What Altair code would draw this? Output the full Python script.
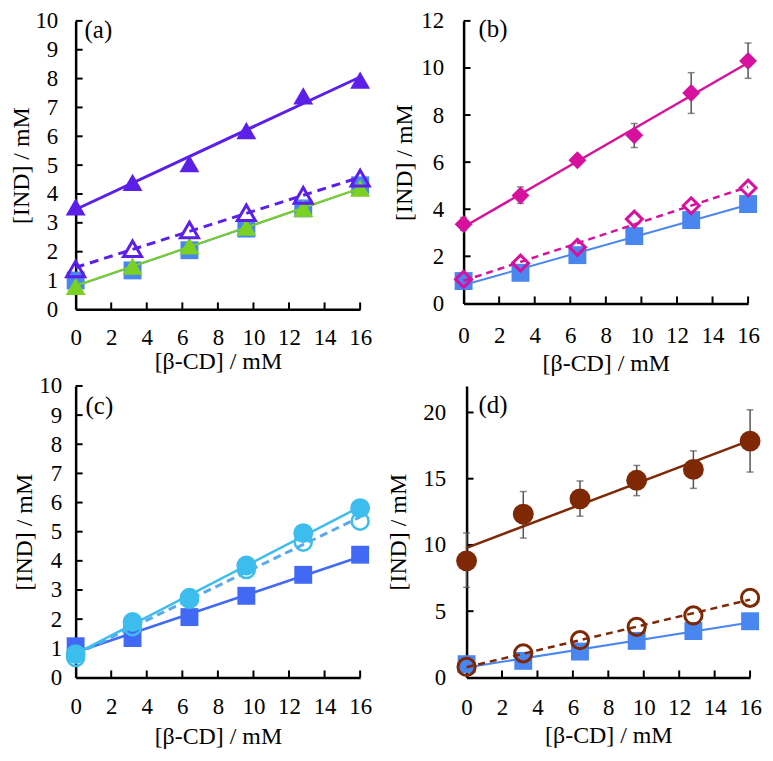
import altair as alt
import pandas as pd

FONT = "Liberation Serif"

# ---------------- data ----------------
X = [0, 3.2, 6.4, 9.6, 12.8, 16]

# panel (a)
a_ctrl = [1.0, 1.35, 2.05, 2.8, 3.5, 4.3]
a_green = [0.8, 1.5, 2.2, 2.85, 3.5, 4.2]
a_purple = [3.55, 4.4, 5.05, 6.2, 7.4, 7.95]
a_purple_open = [1.4, 2.1, 2.75, 3.35, 3.95, 4.55]

# panel (b)
b_ctrl = [0.95, 1.3, 2.05, 2.86, 3.54, 4.22]
b_mag = [3.36, 4.58, 6.08, 7.14, 8.94, 10.3]
b_mag_lo = [3.1, 4.25, 5.9, 6.62, 8.07, 9.56]
b_mag_hi = [3.65, 4.95, 6.3, 7.64, 9.8, 11.06]
b_mag_open = [1.02, 1.71, 2.38, 3.58, 4.15, 4.9]

# panel (c)
c_ctrl = [1.07, 1.35, 2.07, 2.8, 3.52, 4.21]
c_lb = [0.8, 1.9, 2.69, 3.84, 4.95, 5.81]
c_lb_open = [0.68, 1.74, 2.74, 3.7, 4.64, 5.36]

# panel (d)
d_ctrl = [1.0, 1.25, 1.95, 2.76, 3.5, 4.24]
d_brown = [8.8, 12.32, 13.48, 14.88, 15.7, 17.84]
d_brown_lo = [6.8, 10.52, 12.17, 13.72, 14.27, 15.5]
d_brown_hi = [10.9, 14.03, 14.83, 16.0, 17.1, 20.2]
d_brown_open = [0.79, 1.82, 2.81, 3.82, 4.68, 6.01]

X_TICKS = [0, 2, 4, 6, 8, 10, 12, 14, 16]
A_YTICKS = list(range(0, 11))
B_YTICKS = [0, 2, 4, 6, 8, 10, 12]
C_YTICKS = list(range(0, 11))
D_YTICKS = [0, 5, 10, 15, 20]

X_TITLE = "[β-CD] / mM"
Y_TITLE = "[IND] / mM"
LABELS = ["(a)", "(b)", "(c)", "(d)"]

# ---------------- colours ----------------
BLUE = "#4A86F0"
BLUE_C = "#4169F5"
PURPLE = "#5B1FE8"
GREEN = "#7AD124"
MAGENTA = "#D5119E"
LIGHTBLUE = "#3DBDEE"
LIGHTBLUE_DASH = "#5AA8F0"
BROWN = "#7E2806"
ERR = "#555555"

LFS = 23   # tick label font size
TFS = 24   # axis title font size


def panel(label, ymax, yticks, series, errs, w, h, ax):
    xs = alt.Scale(domain=[0, 16], nice=False, zero=False)
    ys = alt.Scale(domain=[0, ymax], nice=False, zero=False)
    common = dict(grid=False, ticks=False, domainColor="black", domainWidth=2.5,
                  labelFont=FONT, labelFontSize=LFS, labelColor="black",
                  titleFont=FONT, titleFontSize=TFS, titleFontWeight="normal",
                  titleColor="black", labelFlush=False)
    xaxis = alt.Axis(values=X_TICKS, title=X_TITLE, labelPadding=ax["xlp"],
                     titleY=ax["xty"], titleBaseline="top", **common)
    yaxis = alt.Axis(values=yticks, title=Y_TITLE, labelPadding=ax["ylp"],
                     titlePadding=ax["ytp"], **common)

    def enc_x(f="x"):
        return alt.X(f"{f}:Q", scale=xs, axis=xaxis)

    def enc_y(f="y"):
        return alt.Y(f"{f}:Q", scale=ys, axis=yaxis)

    layers = []
    # inward ticks
    xt = pd.DataFrame({"x": [t for t in X_TICKS if t > 0]})
    layers.append(alt.Chart(xt).mark_rule(color="black", strokeWidth=2).encode(
        x=enc_x(), y=alt.value(h), y2=alt.value(h - 7)))
    yt = pd.DataFrame({"y": [t for t in yticks if t > 0]})
    layers.append(alt.Chart(yt).mark_rule(color="black", strokeWidth=2).encode(
        y=enc_y(), x=alt.value(0), x2=alt.value(7)))

    # error bars
    for vals, lo, hi in errs:
        edf = pd.DataFrame({"x": X, "lo": lo, "hi": hi})
        layers.append(alt.Chart(edf).mark_rule(color=ERR, strokeWidth=1.5).encode(
            x=enc_x(), y=enc_y("lo"), y2="hi:Q"))
        for f in ("lo", "hi"):
            layers.append(alt.Chart(edf).mark_tick(color=ERR, orient="horizontal",
                                                   size=7, thickness=1.5).encode(
                x=enc_x(), y=enc_y(f)))

    for s in series:
        df = pd.DataFrame({"x": X, "y": s["y"]})
        line_kw = dict(color=s["lcolor"], strokeWidth=s["lw"])
        if s.get("dash"):
            line_kw["strokeDash"] = s["dash"]
        line = alt.Chart(df).transform_regression(
            "x", "y", extent=[0, 16]).mark_line(**line_kw).encode(x=enc_x(), y=enc_y())
        pt_kw = dict(shape=s["shape"], size=s["size"], color=s["color"], opacity=1)
        if s["filled"]:
            pt_kw.update(filled=True, strokeWidth=0)
        else:
            pt_kw.update(filled=False, strokeWidth=s.get("sw", 3))
        pts = alt.Chart(df).mark_point(**pt_kw).encode(x=enc_x(), y=enc_y())
        layers += [line, pts]

    lab = alt.Chart(pd.DataFrame({"t": [label]})).mark_text(
        font=FONT, fontSize=25, align="left", baseline="middle", color="black").encode(
        text="t:N", x=alt.value(ax["lx"]), y=alt.value(ax["ly"]))
    layers.append(lab)
    return alt.layer(*layers).properties(width=w, height=h)


pa = panel(LABELS[0], 10, A_YTICKS, [
    dict(y=a_ctrl, shape="square", size=324, color=BLUE, filled=True, lcolor=BLUE, lw=2),
    dict(y=a_green, shape="triangle-up", size=400, color=GREEN, filled=True, lcolor=GREEN, lw=2),
    dict(y=a_purple, shape="triangle-up", size=400, color=PURPLE, filled=True, lcolor=PURPLE, lw=3),
    dict(y=a_purple_open, shape="triangle-up", size=330, color=PURPLE, filled=False, sw=3,
         lcolor=PURPLE, lw=3, dash=[9, 6]),
], [], 286, 290, dict(xlp=17, xty=40, ylp=18, ytp=1, lx=9, ly=9))

pb = panel(LABELS[1], 12, B_YTICKS, [
    dict(y=b_ctrl, shape="square", size=324, color=BLUE, filled=True, lcolor=BLUE, lw=2),
    dict(y=b_mag_open, shape="diamond", size=256, color=MAGENTA, filled=False, sw=3,
         lcolor=MAGENTA, lw=2.5, dash=[7, 5]),
    dict(y=b_mag, shape="diamond", size=324, color=MAGENTA, filled=True, lcolor=MAGENTA, lw=2.5),
], [(b_mag, b_mag_lo, b_mag_hi)], 286, 284, dict(xlp=21, xty=48, ylp=20, ytp=4, lx=15, ly=8))

pc = panel(LABELS[2], 10, C_YTICKS, [
    dict(y=c_ctrl, shape="square", size=324, color=BLUE_C, filled=True, lcolor=BLUE_C, lw=2.5),
    dict(y=c_lb_open, shape="circle", size=290, color=LIGHTBLUE, filled=False, sw=2.5,
         lcolor=LIGHTBLUE_DASH, lw=3, dash=[8, 5]),
    dict(y=c_lb, shape="circle", size=400, color=LIGHTBLUE, filled=True, lcolor=LIGHTBLUE, lw=2.5),
], [], 286, 293, dict(xlp=18, xty=47, ylp=14, ytp=2, lx=10, ly=20))

pd_ = panel(LABELS[3], 22, D_YTICKS, [
    dict(y=d_ctrl, shape="square", size=324, color=BLUE, filled=True, lcolor=BLUE, lw=2),
    dict(y=d_brown_open, shape="circle", size=300, color=BROWN, filled=False, sw=3,
         lcolor=BROWN, lw=2.5, dash=[7, 5]),
    dict(y=d_brown, shape="circle", size=441, color=BROWN, filled=True, lcolor=BROWN, lw=2.5),
], [(d_brown, d_brown_lo, d_brown_hi)], 285, 293, dict(xlp=19, xty=46, ylp=21, ytp=12, lx=12, ly=19))

chart = alt.vconcat(
    alt.hconcat(pa, pb, spacing=17),
    alt.hconcat(pc, pd_, spacing=13),
    spacing=0,
).properties(padding={"left": 2, "top": 0, "right": 0, "bottom": 0}).configure_view(stroke=None)

chart.save("out.html", embed_options={"renderer": "svg", "actions": False})
